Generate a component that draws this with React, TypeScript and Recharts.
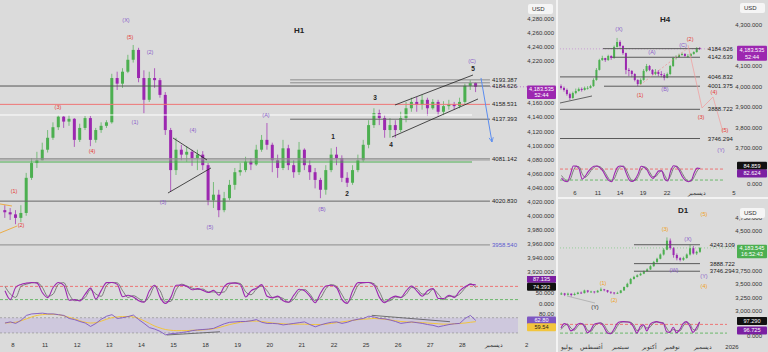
import React from 'react'
import {
  ComposedChart,
  Bar,
  Line,
  XAxis,
  YAxis,
  ReferenceLine,
  ReferenceDot,
  ReferenceArea,
} from 'recharts'

const BG = '#dbdbdb'
const UP = '#4caf50'
const DOWN = '#9c27b0'
const WAVE = '#8a5cc9'
const RED = '#e53935'
const ORANGE = '#f0a020'
const INK = '#222'
const FONT = '"Liberation Sans", Arial, sans-serif'
const M0 = { top: 0, right: 0, bottom: 0, left: 0 }

const kindColor: Record<string, string> = { wave: WAVE, red: RED, orange: ORANGE, ink: INK }

// ---------- H1 data (bars from index -2, six per day) ----------
const h1Start = -2
const h1FirstOpen = 4008
const h1Close = [
  4005, 4002, 3997, 4004,
  4054, 4075, 4079, 4094, 4111, 4126, 4141, 4134,
  4138, 4108, 4125, 4139, 4108, 4122, 4128, 4133, 4196, 4188,
  4205, 4222, 4236, 4196, 4165, 4196, 4193, 4172, 4122, 4065,
  4094, 4087, 4091, 4082, 4087, 4072, 4022, 4030, 4008, 4025,
  4044, 4062, 4065, 4077, 4073, 4094, 4108, 4101, 4079, 4068,
  4096, 4072, 4062, 4094, 4072, 4062, 4051, 4037, 4065, 4087,
  4082, 4054, 4047, 4065, 4079, 4101, 4129, 4146, 4139, 4122,
  4129, 4122, 4139, 4153, 4162, 4158, 4165, 4153, 4162, 4148,
  4156, 4159, 4156, 4162, 4185, 4189, 4183.535,
]
const h1High = [
  4015, 4011, 4008, 4015,
  4061, 4082, 4091, 4104, 4122, 4133, 4143, 4142,
  4143, 4139, 4131, 4142, 4142, 4125, 4133, 4136, 4202, 4205,
  4210, 4229, 4243, 4239, 4207, 4205, 4210, 4196, 4176, 4125,
  4111, 4101, 4099, 4094, 4094, 4092, 4075, 4048, 4037, 4034,
  4051, 4068, 4075, 4084, 4082, 4101, 4115, 4132, 4104, 4087,
  4108, 4101, 4079, 4105, 4096, 4079, 4068, 4054, 4072, 4096,
  4098, 4086, 4062, 4072, 4087, 4108, 4136, 4153, 4151, 4143,
  4139, 4136, 4148, 4162, 4168, 4169, 4172, 4168, 4166, 4165,
  4163, 4165, 4162, 4168, 4188, 4193, 4190,
]
const h1Low = [
  3997, 3994, 3988, 3991,
  4000, 4051, 4068, 4079, 4090, 4108, 4122, 4125,
  4128, 4098, 4105, 4122, 4099, 4104, 4118, 4125, 4131, 4179,
  4182, 4203, 4218, 4190, 4146, 4162, 4182, 4168, 4115, 4034,
  4058, 4079, 4077, 4071, 4065, 4065, 4015, 4011, 3998, 4005,
  4022, 4037, 4057, 4062, 4065, 4071, 4091, 4094, 4062, 4054,
  4065, 4065, 4054, 4058, 4065, 4051, 4039, 4025, 4030, 4062,
  4072, 4048, 4041, 4044, 4062, 4077, 4096, 4125, 4129, 4111,
  4111, 4111, 4119, 4133, 4148, 4148, 4151, 4142, 4151, 4141,
  4143, 4151, 4151, 4153, 4159, 4179, 4176,
]
const h1StochK = [
  60, 20, 75, 89,
  95, 98, 95, 51, 29, 75, 98, 85,
  17, 20, 14, 45, 72, 22, 62, 97, 98, 89,
  33, 40, 32, 15, 8, 60, 85, 30, 2, 30,
  85, 86, 80, 65, 70, 62, 52, 62, 40, 80,
  95, 95, 88, 32, 60, 72, 88, 35, 28, 36,
  15, 8, 40, 67, 60, 35, 6, 50, 82, 85,
  74, 20, 3, 60, 97, 97, 98, 85, 30, 6,
  25, 36, 29, 60, 82, 59, 35, 60, 70, 25,
  25, 40, 30, 60, 78, 89, 87.135,
]
const h1StochD = [
  80, 45, 30, 80,
  90, 96, 98, 75, 35, 45, 90, 97,
  45, 15, 18, 30, 65, 45, 35, 85, 98, 96,
  60, 30, 38, 25, 10, 35, 80, 60, 10, 12,
  65, 90, 82, 72, 66, 68, 55, 55, 52, 55,
  90, 97, 93, 55, 42, 68, 82, 60, 30, 32,
  25, 8, 22, 58, 66, 45, 15, 28, 70, 88,
  80, 42, 8, 35, 85, 97, 98, 92, 55, 12,
  15, 32, 30, 45, 75, 70, 45, 45, 68, 45,
  20, 35, 35, 45, 72, 92, 74.393,
]
const h1Rsi = [
  56, 59, 55, 63,
  76, 80, 81, 82, 80, 80, 78, 76,
  68, 65, 60, 56, 47, 55, 66, 74, 78, 68,
  70, 73, 77, 65, 55, 44, 40, 34, 25, 28,
  29, 31, 33, 36, 38, 39, 40, 42, 48, 54,
  58, 59, 60, 60, 62, 65, 58, 55, 55, 54,
  51, 53, 55, 57, 59, 52, 46, 51, 55, 58,
  59, 55, 58, 63, 66, 68, 74, 72, 68, 67,
  64, 60, 55, 57, 59, 57, 55, 52, 50, 46,
  49, 52, 54, 55, 68, 76, 62.8,
]
const h1RsiMa = [
  56, 57, 58, 62,
  67, 72, 76, 78, 79, 79, 78, 75,
  71, 67, 62, 58, 56, 57, 61, 66, 70, 72,
  73, 73, 72, 68, 62, 55, 48, 43, 39, 37,
  36, 36, 36, 37, 37, 38, 39, 41, 44, 48,
  52, 55, 58, 60, 61, 61, 60, 58, 56, 55,
  54, 53, 53, 53, 53, 52, 52, 52, 53, 55,
  57, 59, 61, 63, 65, 66, 67, 68, 67, 66,
  64, 62, 60, 59, 58, 58, 57, 56, 55, 54,
  53, 53, 54, 55, 56, 58, 59.54,
]
const h1DayTicks = [0, 6, 12, 18, 24, 30, 36, 42, 48, 54, 60, 66, 72, 78, 84, 90, 96]
const h1DayLabels = ['8', '11', '12', '13', '14', '15', '18', '19', '20', '21', '22', '25', '26', '27', '28', 'ديسمبر', '2']
const h1PriceTicks = [3920, 3940, 3960, 3980, 4000, 4020, 4040, 4060, 4080, 4100, 4120, 4140, 4160, 4220, 4240, 4260, 4280]

// levels: price, start/end on the bar axis, whether labelled
const h1Levels = [
  { price: 4193.387, from: 51.8, to: 89.16, tone: '#8c8c8c', label: '4193.387' },
  { price: 4189.2, from: 51.8, to: 89.16, tone: '#8c8c8c', label: '' },
  { price: 4184.626, from: -2.43, to: 89.16, tone: '#555', label: '4184.626' },
  { price: 4158.531, from: -2.43, to: 89.16, tone: '#ef7676', label: '4158.531' },
  { price: 4143.4, from: -2.43, to: 85.8, tone: '#ffffff', label: '' },
  { price: 4137.393, from: 51.8, to: 89.16, tone: '#666', label: '4137.393' },
  { price: 4081.142, from: -2.43, to: 89.16, tone: '#8c8c8c', label: '4081.142' },
  { price: 4079.4, from: -2.43, to: 89.16, tone: '#9a9a9a', label: '' },
  { price: 4076.5, from: -2.43, to: 85.8, tone: '#4caf50', label: '' },
  { price: 4020.83, from: -2.43, to: 89.16, tone: '#666', label: '4020.830' },
  { price: 3958.54, from: -2.43, to: 89.16, tone: '#8c8c8c', label: '3958.540' },
]
const h1Waves = [
  { x: 21.12, p: 4278.6, t: '(X)', kind: 'wave' },
  { x: 21.87, p: 4254.4, t: '(5)', kind: 'red' },
  { x: 25.61, p: 4233.0, t: '(2)', kind: 'wave' },
  { x: 22.8, p: 4133.4, t: '(1)', kind: 'wave' },
  { x: 8.41, p: 4154.8, t: '(3)', kind: 'red' },
  { x: 14.77, p: 4092.2, t: '(4)', kind: 'red' },
  { x: 0.19, p: 4035.3, t: '(1)', kind: 'red' },
  { x: 1.5, p: 3986.9, t: '(2)', kind: 'red' },
  { x: 33.64, p: 4122.1, t: '(4)', kind: 'wave' },
  { x: 28.04, p: 4019.0, t: '(3)', kind: 'wave' },
  { x: 36.82, p: 3984.0, t: '(5)', kind: 'wave' },
  { x: 47.29, p: 4143.4, t: '(A)', kind: 'wave' },
  { x: 57.76, p: 4009.6, t: '(B)', kind: 'wave' },
  { x: 85.79, p: 4219.5, t: '(C)', kind: 'wave' },
  { x: 59.81, p: 4112.1, t: '1', kind: 'ink' },
  { x: 62.43, p: 4031.0, t: '2', kind: 'ink' },
  { x: 67.66, p: 4167.6, t: '3', kind: 'ink' },
  { x: 70.65, p: 4100.7, t: '4', kind: 'ink' },
  { x: 85.98, p: 4208.9, t: '5', kind: 'ink' },
]
const h1Trends = [
  { a: [29.91, 4110.7], b: [36.26, 4079.4], kind: 'ink' },
  { a: [28.97, 4032.4], b: [37.01, 4068.0], kind: 'ink' },
  { a: [71.4, 4157.6], b: [85.98, 4200.3], kind: 'ink' },
  { a: [70.84, 4112.1], b: [86.92, 4166.2], kind: 'ink' },
  { a: [-2.43, 4016.8], b: [-0.19, 4013.9], kind: 'orange' },
  { a: [-2.43, 3975.5], b: [0.75, 3985.4], kind: 'orange' },
]
const h1Arrow = { a: [87.48, 4196.1], b: [89.53, 4105.0] }
const h1RsiDiv = [
  { a: [28.73, 24.5], b: [38.69, 33] },
  { a: [67.05, 76.3], b: [81.68, 59.5] },
]

// ---------- H4 data ----------
const h4FirstOpen = 4002
const h4Close = [
  3993, 3983, 3963, 3944, 3968, 3978, 3988, 3983, 3993, 3993,
  4002, 4032, 4081, 4129, 4139, 4129, 4149, 4139, 4193, 4217,
  4198, 4163, 4081, 4076, 4061, 4032, 4012, 4032, 4076, 4100,
  4081, 4061, 4071, 4061, 4056, 4042, 4061, 4100, 4139, 4144,
  4154, 4159, 4149, 4149, 4159, 4168, 4188, 4183.535,
]
const h4High = [
  4010, 4000, 3990, 3970, 3975, 3990, 3995, 3995, 4000, 4002,
  4008, 4040, 4090, 4135, 4150, 4140, 4155, 4152, 4200, 4237,
  4225, 4200, 4165, 4090, 4080, 4065, 4035, 4040, 4085, 4110,
  4105, 4085, 4085, 4080, 4075, 4065, 4068, 4105, 4145, 4152,
  4160, 4165, 4162, 4158, 4163, 4172, 4192, 4192,
]
const h4Low = [
  3985, 3975, 3955, 3934, 3940, 3962, 3975, 3975, 3980, 3985,
  3990, 3998, 4028, 4078, 4125, 4120, 4125, 4130, 4135, 4190,
  4190, 4155, 4060, 4050, 4045, 4025, 4002, 4008, 4028, 4070,
  4075, 4055, 4055, 4050, 4045, 4030, 4040, 4055, 4095, 4132,
  4140, 4150, 4145, 4140, 4145, 4155, 4165, 4178,
]
const h4StochK = [
  30, 15, 11, 50, 97, 96, 80, 25, 40, 65,
  84, 95, 97, 88, 70, 40, 18, 11, 55, 90,
  97, 93, 55, 20, 12, 25, 55, 95, 90, 75,
  45, 29, 50, 70, 70, 25, 15, 70, 98, 93,
  70, 38, 18, 11, 18, 60, 85, 82.624,
]
const h4StochD = [
  45, 25, 14, 25, 70, 95, 92, 55, 35, 48,
  72, 88, 96, 93, 80, 55, 28, 14, 30, 70,
  92, 96, 75, 38, 16, 18, 38, 75, 92, 85,
  60, 38, 40, 60, 70, 45, 20, 45, 85, 96,
  82, 55, 28, 14, 15, 38, 70, 84.859,
]
const h4DayTicks = [4.58, 12.37, 19.83, 27.63, 35.76, 45.93, 58.47]
const h4DayLabels = ['6', '11', '14', '19', '22', 'ديسمبر', '5']
const h4PriceTicks = [3700, 3800, 3900, 4000, 4100, 4300]
const h4Levels = [
  { price: 4184.626, from: 14.07, label: '4184.626' },
  { price: 4142.639, from: 17.12, label: '4142.639' },
  { price: 4046.832, from: -0.51, label: '4046.832' },
  { price: 4001.375, from: 14.41, label: '4001.375' },
  { price: 3888.722, from: -0.51, label: '3888.722' },
  { price: 3746.294, from: -0.51, label: '3746.294' },
]
const h4Waves = [
  { x: 19.49, p: 4280.5, t: '(X)', kind: 'wave' },
  { x: 30.68, p: 4168.3, t: '(A)', kind: 'wave' },
  { x: 35.08, p: 3987.8, t: '(B)', kind: 'wave' },
  { x: 26.61, p: 3958.5, t: '(1)', kind: 'red' },
  { x: 41.2, p: 4200.0, t: '(C)', kind: 'wave' },
  { x: 43.6, p: 4229.0, t: '(2)', kind: 'red' },
  { x: 51.69, p: 3973.2, t: '(4)', kind: 'red' },
  { x: 47.29, p: 3851.2, t: '(3)', kind: 'red' },
  { x: 55.4, p: 3785.0, t: '(5)', kind: 'red' },
  { x: 54.07, p: 3690.2, t: '(Y)', kind: 'wave' },
]
const h4Path = [
  [42.88, 4202.4],
  [47.63, 3895.1],
  [51.36, 3948.8],
  [54.75, 3778.0],
]

// ---------- D1 data ----------
const d1FirstOpen = 3310
const d1Close = [
  3330, 3305, 3325, 3300, 3320, 3345, 3335, 3385, 3362, 3365,
  3350, 3380, 3405, 3390, 3360, 3345, 3332, 3340, 3385, 3450,
  3510, 3600, 3640, 3670, 3700, 3745, 3780, 3840, 3920, 3980,
  4060, 4150, 4320, 4180, 4050, 3990, 3960, 3995, 4060, 4180,
  4080, 4110, 4183.545,
]
const d1High = [
  3350, 3340, 3345, 3330, 3345, 3360, 3365, 3400, 3395, 3380,
  3370, 3395, 3440, 3415, 3395, 3365, 3355, 3360, 3395, 3460,
  3530, 3620, 3660, 3690, 3720, 3760, 3800, 3860, 3940, 4000,
  4080, 4180, 4381, 4360, 4200, 4080, 4010, 4020, 4080, 4245,
  4220, 4130, 4200,
]
const d1Low = [
  3300, 3280, 3290, 3270, 3290, 3310, 3320, 3330, 3340, 3340,
  3330, 3345, 3370, 3370, 3340, 3320, 3310, 3320, 3330, 3380,
  3440, 3500, 3590, 3630, 3660, 3690, 3740, 3770, 3830, 3900,
  3970, 4040, 4140, 4150, 4000, 3950, 3930, 3940, 3980, 4040,
  4060, 4050, 4090,
]
const d1StochK = [
  55, 85, 75, 35, 50, 80, 88, 70, 22, 40,
  80, 88, 90, 62, 22, 15, 45, 85, 98, 99,
  97, 92, 60, 20, 65, 78, 35, 80, 95, 99,
  92, 88, 30, 25, 60, 22, 45, 85, 99, 70,
  25, 55, 96.725,
]
const d1StochD = [
  45, 70, 82, 55, 40, 65, 85, 80, 40, 30,
  62, 85, 90, 78, 40, 18, 28, 65, 92, 98,
  98, 95, 78, 38, 45, 72, 55, 62, 88, 97,
  95, 90, 55, 28, 45, 38, 35, 68, 92, 85,
  45, 40, 97.29,
]
const d1MonthTicks = [1.82, 9.39, 17.88, 26.67, 33.64, 43.03, 51.82]
const d1MonthLabels = ['يوليو', 'أغسطس', 'سبتمبر', 'أكتوبر', 'نوفمبر', 'ديسمبر', '2026']
const d1PriceTicks = [3000, 3250, 3500, 3750, 4500, 4750]
const d1Levels = [
  { price: 4243.109, label: '4243.109' },
  { price: 3888.722, label: '3888.722' },
  { price: 3746.294, label: '3746.294' },
]
const d1Waves = [
  { x: 43.33, p: 4820, t: '(5)', kind: 'orange' },
  { x: 31.52, p: 4538, t: '(3)', kind: 'orange' },
  { x: 38.48, p: 4351, t: '(X)', kind: 'wave' },
  { x: 34.24, p: 3769, t: '(W)', kind: 'wave' },
  { x: 43.33, p: 3657, t: '(Y)', kind: 'wave' },
  { x: 43.33, p: 3469, t: '(4)', kind: 'orange' },
  { x: 12.73, p: 3525, t: '(1)', kind: 'orange' },
  { x: 16.06, p: 3206, t: '(2)', kind: 'orange' },
  { x: 10.3, p: 3075, t: '(Y)', kind: 'ink' },
]

// ---------- helpers ----------
function buildRows(x0: number, firstOpen: number, close: number[], high: number[], low: number[], extra: Record<string, number[]>) {
  return close.map((c, j) => {
    const row: any = {
      x: x0 + j,
      open: j === 0 ? firstOpen : close[j - 1],
      close: c,
      high: high[j],
      low: low[j],
      range: [low[j], high[j]],
    }
    for (const key of Object.keys(extra)) row[key] = extra[key][j]
    return row
  })
}

const h1Rows = buildRows(h1Start + 0.5, h1FirstOpen, h1Close, h1High, h1Low, {
  k: h1StochK,
  d: h1StochD,
  rsi: h1Rsi,
  rsiMa: h1RsiMa,
})
const h4Rows = buildRows(0, h4FirstOpen, h4Close, h4High, h4Low, { k: h4StochK, d: h4StochD })
const d1Rows = buildRows(0, d1FirstOpen, d1Close, d1High, d1Low, { k: d1StochK, d: d1StochD })

const H1_X: [number, number] = [-2.43, 101.5]
const H4_X: [number, number] = [-0.508, 70.0]
const D1_X: [number, number] = [-0.303, 62.73]

// right price column of the two small panels (chart coordinates)
const SIDE_BOX_LEFT = 177
const SIDE_BOX_W = 30
const SIDE_TICK_RIGHT = 202

const fmtPrice = (v: number) => v.toLocaleString('en-US', { minimumFractionDigits: 3, maximumFractionDigits: 3 })
const fmt3 = (v: number) => v.toFixed(3)
const fmt2 = (v: number) => v.toFixed(2)

function Candle(props: any) {
  const { x, y, width, height, payload } = props
  if (!payload || x == null || y == null) return <g />
  const top = Math.min(y, y + height)
  const h = Math.abs(height)
  const k = h / (payload.high - payload.low || 1)
  const yOpen = top + (payload.high - payload.open) * k
  const yClose = top + (payload.high - payload.close) * k
  const color = payload.close >= payload.open ? UP : DOWN
  const cx = x + width / 2
  return (
    <g>
      <line x1={cx} x2={cx} y1={top} y2={top + h} stroke={color} strokeWidth={0.7} />
      <rect
        x={x}
        y={Math.min(yOpen, yClose)}
        width={width}
        height={Math.max(Math.abs(yClose - yOpen), 0.8)}
        fill={color}
      />
    </g>
  )
}

const yTick = (right: number, fmt: (v: number) => string) => (p: any) => (
  <text x={right} y={p.y} dy="0.35em" textAnchor="end" fontSize={6} fill="#333">
    {fmt(p.payload.value)}
  </text>
)

const xTick = (ticks: number[], labels: string[], dy: number) => (p: any) => {
  const i = ticks.indexOf(p.payload.value)
  return (
    <text x={p.x} y={p.y + dy} textAnchor="middle" fontSize={6} fill="#333">
      {labels[i >= 0 ? i : p.index]}
    </text>
  )
}

const tag = (text: string, color: string, size = 6, weight: any = 'normal') => (p: any) => (
  <text x={p.cx} y={p.cy} dy="0.35em" textAnchor="middle" fontSize={size} fontWeight={weight} fill={color}>
    {text}
  </text>
)

const levelTag = (text: string, color = INK) => (p: any) => (
  <text x={p.cx} y={p.cy} dy="0.35em" textAnchor="start" fontSize={6} fill={color}>
    {text}
  </text>
)

const axisBox = (left: number, width: number, lines: string[], bg: string, fg: string, offset = 0, lineH = 6.5) => (p: any) => {
  const h = lines.length * lineH + 1.5
  const top = p.cy + offset - lineH / 2 - 0.75
  return (
    <g>
      <rect x={left} y={top} width={width} height={h} rx={1} fill={bg} />
      {lines.map((s, i) => (
        <text
          key={i}
          x={left + width / 2}
          y={top + 0.75 + lineH * (i + 0.5)}
          dy="0.35em"
          textAnchor="middle"
          fontSize={5.6}
          fill={fg}
        >
          {s}
        </text>
      ))}
    </g>
  )
}

const arrowHead = (p: any) => (
  <path
    d={`M${p.cx - 2.9},${p.cy - 4.1} L${p.cx},${p.cy} L${p.cx + 1.3},${p.cy - 4.8}`}
    stroke="#5b8def"
    strokeWidth={0.9}
    fill="none"
  />
)

function Abs({ left, top, children }: { left: number; top: number; children: React.ReactNode }) {
  return <div style={{ position: 'absolute', left, top }}>{children}</div>
}

function Seg({ a, b, color, width = 0.8, dash }: any) {
  return (
    <ReferenceLine
      segment={[
        { x: a[0], y: a[1] },
        { x: b[0], y: b[1] },
      ]}
      stroke={color}
      strokeWidth={width}
      strokeDasharray={dash}
      ifOverflow="visible"
    />
  )
}

function UsdBox({ left, top }: { left: number; top: number }) {
  return (
    <div
      style={{
        position: 'absolute',
        left,
        top,
        width: 25,
        height: 10,
        background: '#f5f5f5',
        borderRadius: 2,
        fontSize: 6,
        lineHeight: '10px',
        paddingLeft: 4,
        boxSizing: 'border-box',
        color: '#333',
      }}
    >
      USD
    </div>
  )
}

function Title({ left, top, text }: { left: number; top: number; text: string }) {
  return (
    <div style={{ position: 'absolute', left, top, fontSize: 8, fontWeight: 700, color: '#222' }}>{text}</div>
  )
}

function PriceAxis({ domain, ticks, right, fmt }: any) {
  return (
    <YAxis
      orientation="right"
      mirror
      width={1}
      domain={domain}
      allowDataOverflow
      ticks={ticks}
      interval={0}
      axisLine={false}
      tickLine={false}
      tick={yTick(right, fmt)}
    />
  )
}

// ---------- panels ----------
function H1Panel() {
  return (
    <>
      <Abs left={0} top={0}>
        <ComposedChart width={556} height={276} data={h1Rows} margin={M0}>
          <XAxis type="number" dataKey="x" domain={H1_X} allowDataOverflow hide />
          {PriceAxis({ domain: [3914.3, 4307.03], ticks: h1PriceTicks, right: 554, fmt: fmtPrice })}
          {h1Levels.map((l, i) => (
            <Seg key={'l' + i} a={[l.from, l.price]} b={[l.to, l.price]} color={l.tone} width={1} />
          ))}
          <Seg a={[89.16, 4183.535]} b={[96.4, 4183.535]} color="#b565c8" width={0.8} dash="1 2" />
          {h1Trends.map((t, i) => (
            <Seg key={'t' + i} a={t.a} b={t.b} color={kindColor[t.kind]} width={0.8} />
          ))}
          <Bar dataKey="range" barSize={3} shape={Candle} isAnimationActive={false} />
          <Seg a={h1Arrow.a} b={h1Arrow.b} color="#5b8def" width={1} />
          <ReferenceDot x={h1Arrow.b[0]} y={h1Arrow.b[1]} r={0} ifOverflow="visible" shape={arrowHead} />
          {h1Levels
            .filter((l) => l.label)
            .map((l, i) => (
              <ReferenceDot
                key={'lt' + i}
                x={89.53}
                y={l.price}
                r={0}
                ifOverflow="visible"
                shape={levelTag(l.label, l.price < 3960 ? '#5c5ccf' : INK)}
              />
            ))}
          {h1Waves.map((w, i) => (
            <ReferenceDot
              key={'w' + i}
              x={w.x}
              y={w.p}
              r={0}
              ifOverflow="visible"
              shape={tag(w.t, kindColor[w.kind], w.kind === 'ink' ? 6.5 : 5.5, w.kind === 'ink' ? 700 : 'normal')}
            />
          ))}
          <ReferenceDot
            x={98}
            y={4183.535}
            r={0}
            ifOverflow="visible"
            shape={axisBox(527, 29, ['4,183.535', '52:44'], '#9c27b0', '#fff', 2.5, 6)}
          />
        </ComposedChart>
      </Abs>
      <Abs left={0} top={276}>
        <ComposedChart width={556} height={34} data={h1Rows} margin={M0}>
          <XAxis type="number" dataKey="x" domain={H1_X} allowDataOverflow hide />
          {PriceAxis({ domain: [-27.3, 127.3], ticks: [0, 50], right: 554, fmt: fmt3 })}
          <Seg a={[-2.43, 80]} b={[94.4, 80]} color="#ee6b6b" width={0.9} dash="3 2" />
          <Seg a={[-2.43, 20]} b={[94.4, 20]} color="#5fb35f" width={0.9} dash="3 2" />
          <Line dataKey="d" type="monotone" stroke="#707070" strokeWidth={0.9} dot={false} isAnimationActive={false} />
          <Line dataKey="k" type="monotone" stroke="#9c27b0" strokeWidth={1.1} dot={false} isAnimationActive={false} />
          <ReferenceDot x={98} y={87.135} r={0} ifOverflow="visible" shape={axisBox(527, 29, ['87.135'], '#7b1fa2', '#fff', -6)} />
          <ReferenceDot x={98} y={74.393} r={0} ifOverflow="visible" shape={axisBox(527, 29, ['74.393'], '#111', '#fff', -1)} />
        </ComposedChart>
      </Abs>
      <Abs left={0} top={310}>
        <ComposedChart width={556} height={42} data={h1Rows} margin={M0}>
          <XAxis
            type="number"
            dataKey="x"
            domain={H1_X}
            allowDataOverflow
            height={14}
            ticks={h1DayTicks}
            interval={0}
            axisLine={false}
            tickLine={false}
            tickSize={0}
            tickMargin={0}
            tick={xTick(h1DayTicks, h1DayLabels, 9)}
          />
          {PriceAxis({ domain: [16.6, 90.3], ticks: [80], right: 554, fmt: fmt2 })}
          <ReferenceArea x1={-2.43} x2={94.4} y1={30} y2={70} fill="#b7a6e3" fillOpacity={0.35} stroke="none" ifOverflow="visible" />
          <Seg a={[-2.43, 70]} b={[94.4, 70]} color="#9a9a9a" width={0.8} dash="2 2" />
          <Seg a={[-2.43, 30]} b={[94.4, 30]} color="#9a9a9a" width={0.8} dash="2 2" />
          {h1RsiDiv.map((t, i) => (
            <Seg key={'r' + i} a={t.a} b={t.b} color="#555" width={0.8} />
          ))}
          <Line dataKey="rsiMa" type="monotone" stroke="#f2c53d" strokeWidth={1} dot={false} isAnimationActive={false} />
          <Line dataKey="rsi" type="linear" stroke="#7e57c2" strokeWidth={0.9} dot={false} isAnimationActive={false} />
          <ReferenceDot x={98} y={62.8} r={0} ifOverflow="visible" shape={axisBox(527, 29, ['62.80'], '#7e57c2', '#fff', 0)} />
          <ReferenceDot x={98} y={59.54} r={0} ifOverflow="visible" shape={axisBox(527, 29, ['59.54'], '#f2c53d', '#222', 5.5)} />
        </ComposedChart>
      </Abs>
      <UsdBox left={528} top={4} />
      <Title left={294} top={26} text="H1" />
    </>
  )
}

function H4Panel() {
  return (
    <>
      <Abs left={560} top={0}>
        <ComposedChart width={208} height={155} data={h4Rows} margin={M0}>
          <XAxis type="number" dataKey="x" domain={H4_X} allowDataOverflow hide />
          {PriceAxis({ domain: [3665.85, 4421.95], ticks: h4PriceTicks, right: SIDE_TICK_RIGHT, fmt: fmtPrice })}
          <Seg a={[-0.51, 4183.535]} b={[58.6, 4183.535]} color="#c58fd3" width={0.8} dash="1 2" />
          {h4Levels.map((l, i) => (
            <Seg key={'l' + i} a={[l.from, l.price]} b={[46.95, l.price]} color="#5a5a5a" width={1} />
          ))}
          <Seg a={[-0.51, 3919.5]} b={[10.34, 3953.7]} color="#444" width={0.8} />
          <Seg a={[26.61, 4007.3]} b={[42.88, 4187.8]} color="#f08a8a" width={0.7} dash="2 2" />
          {h4Path.slice(1).map((pt, i) => (
            <Seg key={'p' + i} a={h4Path[i]} b={pt} color="#f29a9a" width={0.7} />
          ))}
          <Bar dataKey="range" barSize={2} shape={Candle} isAnimationActive={false} />
          {h4Levels.map((l, i) => (
            <ReferenceDot key={'lt' + i} x={49.6} y={l.price} r={0} ifOverflow="visible" shape={levelTag(l.label)} />
          ))}
          {h4Waves.map((w, i) => (
            <ReferenceDot key={'w' + i} x={w.x} y={w.p} r={0} ifOverflow="visible" shape={tag(w.t, kindColor[w.kind], 5.5)} />
          ))}
          <ReferenceDot
            x={60}
            y={4183.535}
            r={0}
            ifOverflow="visible"
            shape={axisBox(SIDE_BOX_LEFT, SIDE_BOX_W, ['4,183.535', '52:44'], '#9c27b0', '#fff', 1, 6.8)}
          />
        </ComposedChart>
      </Abs>
      <Abs left={560} top={155}>
        <ComposedChart width={208} height={42} data={h4Rows} margin={M0}>
          <XAxis
            type="number"
            dataKey="x"
            domain={H4_X}
            allowDataOverflow
            height={10}
            ticks={h4DayTicks}
            interval={0}
            axisLine={false}
            tickLine={false}
            tickSize={0}
            tickMargin={0}
            tick={xTick(h4DayTicks, h4DayLabels, 8)}
          />
          {PriceAxis({ domain: [-18, 156.8], ticks: [0], right: SIDE_TICK_RIGHT, fmt: fmt3 })}
          <Seg a={[-0.51, 80]} b={[55.4, 80]} color="#ee6b6b" width={0.9} dash="3 2" />
          <Seg a={[-0.51, 20]} b={[55.4, 20]} color="#5fb35f" width={0.9} dash="3 2" />
          <Line dataKey="d" type="monotone" stroke="#707070" strokeWidth={0.9} dot={false} isAnimationActive={false} />
          <Line dataKey="k" type="monotone" stroke="#9c27b0" strokeWidth={1.1} dot={false} isAnimationActive={false} />
          <ReferenceDot x={60} y={84.859} r={0} ifOverflow="visible" shape={axisBox(SIDE_BOX_LEFT, SIDE_BOX_W, ['84.859'], '#111', '#fff', -2.5)} />
          <ReferenceDot x={60} y={82.624} r={0} ifOverflow="visible" shape={axisBox(SIDE_BOX_LEFT, SIDE_BOX_W, ['82.624'], '#7b1fa2', '#fff', 4.8)} />
        </ComposedChart>
      </Abs>
      <UsdBox left={740} top={3} />
      <Title left={660} top={15} text="H4" />
    </>
  )
}

function D1Panel() {
  return (
    <>
      <Abs left={560} top={199}>
        <ComposedChart width={208} height={118} data={d1Rows} margin={M0}>
          <XAxis type="number" dataKey="x" domain={D1_X} allowDataOverflow hide />
          {PriceAxis({ domain: [2887.4, 5101.3], ticks: d1PriceTicks, right: SIDE_TICK_RIGHT, fmt: fmtPrice })}
          <Seg a={[-0.3, 4183.545]} b={[53.2, 4183.545]} color="#86c98a" width={0.8} dash="1 2" />
          {d1Levels.map((l, i) => (
            <Seg key={'l' + i} a={[22.12, l.price]} b={[42.12, l.price]} color="#5a5a5a" width={1} />
          ))}
          <Seg a={[1.82, 3281]} b={[10.3, 3150]} color="#9a9a9a" width={0.6} />
          <Bar dataKey="range" barSize={2} shape={Candle} isAnimationActive={false} />
          {d1Levels.map((l, i) => (
            <ReferenceDot key={'lt' + i} x={45.1} y={l.price} r={0} ifOverflow="visible" shape={levelTag(l.label)} />
          ))}
          {d1Waves.map((w, i) => (
            <ReferenceDot key={'w' + i} x={w.x} y={w.p} r={0} ifOverflow="visible" shape={tag(w.t, kindColor[w.kind], 5.5)} />
          ))}
          <ReferenceDot
            x={55}
            y={4183.545}
            r={0}
            ifOverflow="visible"
            shape={axisBox(SIDE_BOX_LEFT, SIDE_BOX_W, ['4,183.545', '16:52:43'], '#4caf50', '#fff', 0.5, 6)}
          />
        </ComposedChart>
      </Abs>
      <Abs left={560} top={317}>
        <ComposedChart width={208} height={35} data={d1Rows} margin={M0}>
          <XAxis
            type="number"
            dataKey="x"
            domain={D1_X}
            allowDataOverflow
            height={10}
            ticks={d1MonthTicks}
            interval={0}
            axisLine={false}
            tickLine={false}
            tickSize={0}
            tickMargin={0}
            tick={xTick(d1MonthTicks, d1MonthLabels, 7)}
          />
          {PriceAxis({ domain: [-41.4, 131], ticks: [0], right: SIDE_TICK_RIGHT, fmt: fmt3 })}
          <Seg a={[-0.3, 80]} b={[50.3, 80]} color="#ee6b6b" width={0.9} dash="3 2" />
          <Seg a={[-0.3, 20]} b={[50.3, 20]} color="#5fb35f" width={0.9} dash="3 2" />
          <Line dataKey="d" type="monotone" stroke="#707070" strokeWidth={0.9} dot={false} isAnimationActive={false} />
          <Line dataKey="k" type="monotone" stroke="#9c27b0" strokeWidth={1.1} dot={false} isAnimationActive={false} />
          <ReferenceDot x={55} y={97.29} r={0} ifOverflow="visible" shape={axisBox(SIDE_BOX_LEFT, SIDE_BOX_W, ['97.290'], '#111', '#fff', -1)} />
          <ReferenceDot x={55} y={96.725} r={0} ifOverflow="visible" shape={axisBox(SIDE_BOX_LEFT, SIDE_BOX_W, ['96.725'], '#7b1fa2', '#fff', 8.5)} />
        </ComposedChart>
      </Abs>
      <UsdBox left={740} top={208} />
      <Title left={678} top={206} text="D1" />
    </>
  )
}

export default function App() {
  return (
    <div
      style={{
        position: 'fixed',
        left: 0,
        top: 0,
        width: 768,
        height: 352,
        background: BG,
        fontFamily: FONT,
        overflow: 'hidden',
      }}
    >
      <H1Panel />
      <div style={{ position: 'absolute', left: 556, top: 0, width: 2, height: 352, background: '#f3f3f3' }} />
      <div style={{ position: 'absolute', left: 558, top: 197, width: 210, height: 2, background: '#f3f3f3' }} />
      <H4Panel />
      <D1Panel />
    </div>
  )
}
